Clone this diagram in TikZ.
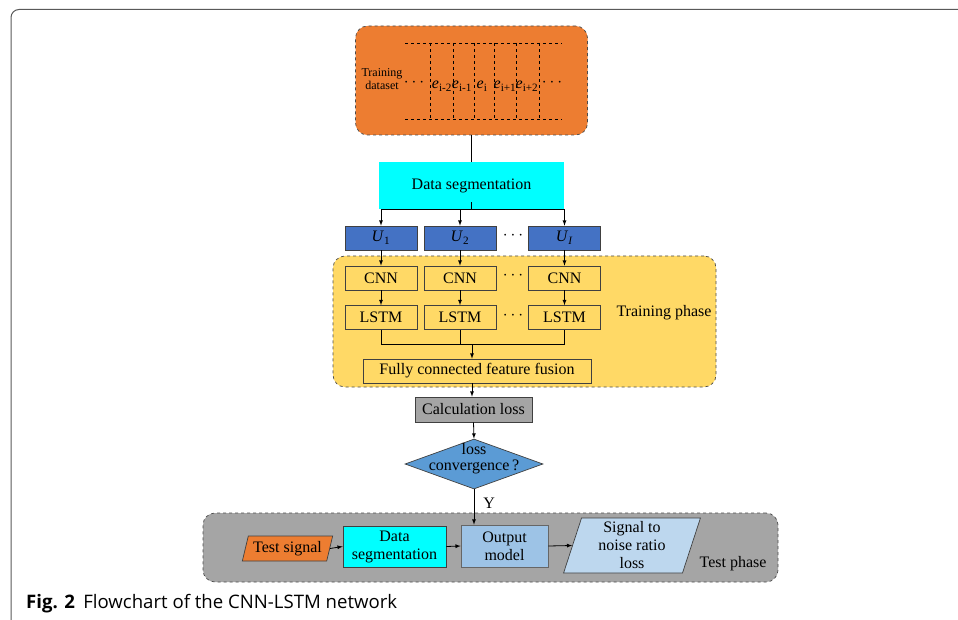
\documentclass[tikz,border=0pt]{standalone}
\usepackage{fontspec}
\setmainfont{Liberation Serif}
\newfontfamily\capfont{Open Sans}
\usetikzlibrary{shapes.geometric}

\definecolor{orangebox}{HTML}{ED7D31}
\definecolor{cyanbox}{HTML}{00FFFF}
\definecolor{ublue}{HTML}{4472C4}
\definecolor{trainyellow}{HTML}{FFD966}
\definecolor{lossgray}{HTML}{A5A5A5}
\definecolor{diamblue}{HTML}{5B9BD5}
\definecolor{outblue}{HTML}{9DC3E6}
\definecolor{snrblue}{HTML}{BDD7EE}

\begin{document}
\begin{tikzpicture}[x=1pt, y=-1pt]

      \tikzset{every node/.style={font=\fontsize{16}{18}\selectfont},
               block/.style={draw=black!75, line width=0.7pt, minimum width=72pt, minimum height=24pt, inner sep=0pt},
               phase/.style={draw=black!70, dashed, line width=0.7pt, rounded corners=12pt},
               slanted/.style={trapezium, trapezium stretches, draw=black!75, line width=0.7pt, inner sep=1pt, align=center},
               conn/.style={->, >=latex, line width=0.8pt}}
      \useasboundingbox (0,0) rectangle (958,620);
%% Frame and caption
      \draw[black!65, line width=1pt, rounded corners=8pt] (11,620) -- (11,9.5) -- (958,9.5);
      \node[anchor=base west, inner sep=0pt, font=\capfont\fontsize{18.6}{22}\selectfont] (cap) at (26,608)
        {\textbf{Fig. 2}\hspace{0.45em}Flowchart of the CNN-LSTM network};
%% Training dataset
      \node[phase, fill=orangebox, minimum width=232pt, minimum height=109pt] (train) at (471.5,80.5) {};
      \draw[dashed, line width=0.6pt] (405,43) -- (562,43) (405,119) -- (562,119);
      \foreach \x in {430,453,474,494,516,539}
        \draw[dashed, line width=0.6pt] (\x,43) -- (\x,119);
      \node[align=center, font=\fontsize{12}{13}\selectfont] (tdata) at (382,79) {Training\\dataset};
      \node (ldots) at (414,83) {$\cdots$};
      \foreach \x/\s [count=\k] in {442/i-2, 462/i-1, 482/i, 505/i+1, 527/i+2}
        \node[anchor=base, inner sep=0pt] (e\k) at (\x,89) {\textit{e}\textsubscript{\s}};
      \node (rdots) at (552,83) {$\cdots$};
%% Segmentation
      \node[fill=cyanbox, minimum width=185pt, minimum height=47pt, inner sep=0pt] (seg) at (471.5,186) {Data segmentation};
      \node[block, fill=ublue] (u1) at (381,238) {\textit{U}\textsubscript{1}};
      \node[block, fill=ublue] (u2) at (460,238) {\textit{U}\textsubscript{2}};
      \node[block, fill=ublue] (u3) at (564.5,238) {\textit{U}\textsubscript{\textit{I}}};
      \node (udots) at (513,236) {$\cdots$};
%% Training phase
      \node[phase, fill=trainyellow, minimum width=383pt, minimum height=131pt] (tphase) at (524.5,321.5) {};
      \node (tphaselbl) at (664,313) {Training phase};
      \foreach \c in {1,2,3}{
        \node[block, fill=trainyellow] (cnn\c) at (u\c |- 0,278) {CNN};
        \node[block, fill=trainyellow] (lstm\c) at (u\c |- 0,317.5) {LSTM};
      }
      \node (cdots) at (513,276) {$\cdots$};
      \node (ldots2) at (513,316) {$\cdots$};
      \node[block, fill=trainyellow, minimum width=228pt] (fusion) at (477,371) {Fully connected feature fusion};
%% Loss
      \node[block, fill=lossgray, minimum width=117pt, minimum height=25pt] (loss) at (473.5,409.5) {Calculation loss};
      \node[diamond, draw=black!75, line width=0.7pt, fill=diamblue, minimum width=138pt, minimum height=50pt, inner sep=0pt] (conv) at (474,464) {};
      \node[align=center, inner sep=0pt, font=\fontsize{16}{16}\selectfont] (convlbl) at (474,459) {loss\\convergence\,?};
%% Test phase
      \node[phase, fill=lossgray, minimum width=575pt, minimum height=69pt] (testbox) at (490.5,547.5) {};
      \node (testlbl) at (733,564) {Test phase};
      \node[slanted, fill=orangebox, trapezium left angle=72, trapezium right angle=108, minimum width=91pt, minimum height=25pt] (tsig) at (287.5,548.5) {Test signal};
      \node[block, fill=cyanbox, minimum width=103pt, minimum height=41pt, align=center] (seg2) at (394.5,546.5) {Data\\segmentation};
      \node[block, fill=outblue, draw=black!60, minimum width=87pt, minimum height=42pt, align=center] (out) at (504.5,546) {Output\\model};
      \node[slanted, fill=snrblue, trapezium left angle=76, trapezium right angle=104, minimum width=138pt, minimum height=55pt] (snr) at (632,545.5) {Signal to\\noise ratio\\loss};
%Edges
      \draw[line width=0.8pt] (train.south) -- (seg.north);
      \coordinate (split) at (seg.south);
      \draw[line width=0.8pt] (split) -- ++(0,-8);
      \draw[line width=0.8pt] (split -| u1) -- (split -| u3);
      \foreach \c in {1,2,3}{
        \path[conn] (split -| u\c) edge (u\c.north);
        \path[conn] (u\c.south) edge (cnn\c.north);
        \path[conn] (cnn\c.south) edge (lstm\c.north);
      }
      \coordinate (merge) at (472,344);
      \draw[line width=0.8pt] (lstm1.south) -- (lstm1.south |- merge) -- (lstm3.south |- merge) -- (lstm3.south);
      \draw[line width=0.8pt] (lstm2.south) -- (lstm2.south |- merge);
      \path[conn] (merge) edge (merge |- fusion.north);
      \path[conn] (merge |- fusion.south) edge (merge |- loss.north);
      \path[conn] (loss.south) edge (conv.north);
      \path[conn] (conv.south) edge node[pos=0.4, anchor=west, inner sep=0pt, xshift=9pt] {Y} (conv.south |- out.north);
      \path[conn] (tsig.east) edge (seg2.west);
      \path[conn] (seg2.east) edge (out.west);
      \path[conn] (out.east) edge (snr.west);

	\end{tikzpicture}
\end{document}
